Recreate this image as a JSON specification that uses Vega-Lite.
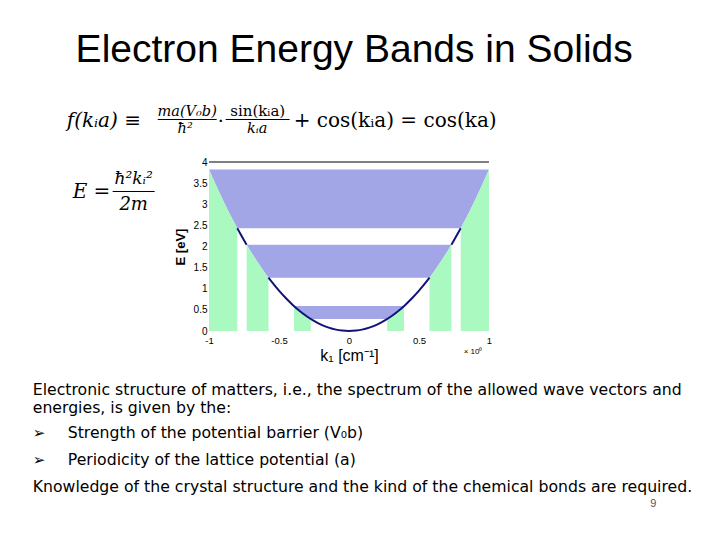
{
  "$schema": "https://vega.github.io/schema/vega-lite/v6.json",
  "width": 280,
  "height": 169,
  "autosize": "none",
  "padding": {"left": 209, "top": 162, "right": 231, "bottom": 209},
  "background": "white",
  "config": {"view": {"stroke": null}},
  "resolve": {"axis": {"x": "independent", "y": "independent"}},
  "datasets": {
    "regions": [
      {"kind": "band", "region": "b1", "k": -0.393, "lo": 0.59, "hi": 0.59},
      {"kind": "band", "region": "b1", "k": -0.35, "lo": 0.468, "hi": 0.59},
      {"kind": "band", "region": "b1", "k": -0.3, "lo": 0.344, "hi": 0.59},
      {"kind": "band", "region": "b1", "k": -0.273, "lo": 0.285, "hi": 0.59},
      {"kind": "band", "region": "b1", "k": 0.273, "lo": 0.285, "hi": 0.59},
      {"kind": "band", "region": "b1", "k": 0.3, "lo": 0.344, "hi": 0.59},
      {"kind": "band", "region": "b1", "k": 0.35, "lo": 0.468, "hi": 0.59},
      {"kind": "band", "region": "b1", "k": 0.393, "lo": 0.59, "hi": 0.59},
      {"kind": "band", "region": "b2", "k": -0.731, "lo": 2.04, "hi": 2.04},
      {"kind": "band", "region": "b2", "k": -0.7, "lo": 1.872, "hi": 2.04},
      {"kind": "band", "region": "b2", "k": -0.65, "lo": 1.614, "hi": 2.04},
      {"kind": "band", "region": "b2", "k": -0.6, "lo": 1.375, "hi": 2.04},
      {"kind": "band", "region": "b2", "k": -0.575, "lo": 1.263, "hi": 2.04},
      {"kind": "band", "region": "b2", "k": 0.575, "lo": 1.263, "hi": 2.04},
      {"kind": "band", "region": "b2", "k": 0.6, "lo": 1.375, "hi": 2.04},
      {"kind": "band", "region": "b2", "k": 0.65, "lo": 1.614, "hi": 2.04},
      {"kind": "band", "region": "b2", "k": 0.7, "lo": 1.872, "hi": 2.04},
      {"kind": "band", "region": "b2", "k": 0.731, "lo": 2.04, "hi": 2.04},
      {"kind": "band", "region": "b3", "k": -1.0, "lo": 3.82, "hi": 3.82},
      {"kind": "band", "region": "b3", "k": -0.95, "lo": 3.448, "hi": 3.82},
      {"kind": "band", "region": "b3", "k": -0.9, "lo": 3.094, "hi": 3.82},
      {"kind": "band", "region": "b3", "k": -0.85, "lo": 2.76, "hi": 3.82},
      {"kind": "band", "region": "b3", "k": -0.798, "lo": 2.433, "hi": 3.82},
      {"kind": "band", "region": "b3", "k": 0.798, "lo": 2.433, "hi": 3.82},
      {"kind": "band", "region": "b3", "k": 0.85, "lo": 2.76, "hi": 3.82},
      {"kind": "band", "region": "b3", "k": 0.9, "lo": 3.094, "hi": 3.82},
      {"kind": "band", "region": "b3", "k": 0.95, "lo": 3.448, "hi": 3.82},
      {"kind": "band", "region": "b3", "k": 1.0, "lo": 3.82, "hi": 3.82},
      {"kind": "kzone", "region": "g1L", "k": -0.393, "lo": 0, "hi": 0.59},
      {"kind": "kzone", "region": "g1L", "k": -0.35, "lo": 0, "hi": 0.468},
      {"kind": "kzone", "region": "g1L", "k": -0.3, "lo": 0, "hi": 0.344},
      {"kind": "kzone", "region": "g1L", "k": -0.273, "lo": 0, "hi": 0.285},
      {"kind": "kzone", "region": "g1R", "k": 0.273, "lo": 0, "hi": 0.285},
      {"kind": "kzone", "region": "g1R", "k": 0.3, "lo": 0, "hi": 0.344},
      {"kind": "kzone", "region": "g1R", "k": 0.35, "lo": 0, "hi": 0.468},
      {"kind": "kzone", "region": "g1R", "k": 0.393, "lo": 0, "hi": 0.59},
      {"kind": "kzone", "region": "g2L", "k": -0.731, "lo": 0, "hi": 2.04},
      {"kind": "kzone", "region": "g2L", "k": -0.7, "lo": 0, "hi": 1.872},
      {"kind": "kzone", "region": "g2L", "k": -0.65, "lo": 0, "hi": 1.614},
      {"kind": "kzone", "region": "g2L", "k": -0.6, "lo": 0, "hi": 1.375},
      {"kind": "kzone", "region": "g2L", "k": -0.575, "lo": 0, "hi": 1.263},
      {"kind": "kzone", "region": "g2R", "k": 0.575, "lo": 0, "hi": 1.263},
      {"kind": "kzone", "region": "g2R", "k": 0.6, "lo": 0, "hi": 1.375},
      {"kind": "kzone", "region": "g2R", "k": 0.65, "lo": 0, "hi": 1.614},
      {"kind": "kzone", "region": "g2R", "k": 0.7, "lo": 0, "hi": 1.872},
      {"kind": "kzone", "region": "g2R", "k": 0.731, "lo": 0, "hi": 2.04},
      {"kind": "kzone", "region": "g3L", "k": -1.0, "lo": 0, "hi": 3.82},
      {"kind": "kzone", "region": "g3L", "k": -0.95, "lo": 0, "hi": 3.448},
      {"kind": "kzone", "region": "g3L", "k": -0.9, "lo": 0, "hi": 3.094},
      {"kind": "kzone", "region": "g3L", "k": -0.85, "lo": 0, "hi": 2.76},
      {"kind": "kzone", "region": "g3L", "k": -0.798, "lo": 0, "hi": 2.433},
      {"kind": "kzone", "region": "g3R", "k": 0.798, "lo": 0, "hi": 2.433},
      {"kind": "kzone", "region": "g3R", "k": 0.85, "lo": 0, "hi": 2.76},
      {"kind": "kzone", "region": "g3R", "k": 0.9, "lo": 0, "hi": 3.094},
      {"kind": "kzone", "region": "g3R", "k": 0.95, "lo": 0, "hi": 3.448},
      {"kind": "kzone", "region": "g3R", "k": 1.0, "lo": 0, "hi": 3.82}
    ],
    "curve": [
      {"seg": "A", "k": -0.798, "E": 2.433},
      {"seg": "A", "k": -0.775, "E": 2.294},
      {"seg": "A", "k": -0.75, "E": 2.149},
      {"seg": "A", "k": -0.731, "E": 2.041},
      {"seg": "B", "k": -0.575, "E": 1.263},
      {"seg": "B", "k": -0.55, "E": 1.156},
      {"seg": "B", "k": -0.5, "E": 0.955},
      {"seg": "B", "k": -0.45, "E": 0.774},
      {"seg": "B", "k": -0.4, "E": 0.611},
      {"seg": "B", "k": -0.35, "E": 0.468},
      {"seg": "B", "k": -0.3, "E": 0.344},
      {"seg": "B", "k": -0.25, "E": 0.239},
      {"seg": "B", "k": -0.2, "E": 0.153},
      {"seg": "B", "k": -0.15, "E": 0.086},
      {"seg": "B", "k": -0.1, "E": 0.038},
      {"seg": "B", "k": -0.05, "E": 0.0096},
      {"seg": "B", "k": 0, "E": 0},
      {"seg": "B", "k": 0.05, "E": 0.0096},
      {"seg": "B", "k": 0.1, "E": 0.038},
      {"seg": "B", "k": 0.15, "E": 0.086},
      {"seg": "B", "k": 0.2, "E": 0.153},
      {"seg": "B", "k": 0.25, "E": 0.239},
      {"seg": "B", "k": 0.3, "E": 0.344},
      {"seg": "B", "k": 0.35, "E": 0.468},
      {"seg": "B", "k": 0.4, "E": 0.611},
      {"seg": "B", "k": 0.45, "E": 0.774},
      {"seg": "B", "k": 0.5, "E": 0.955},
      {"seg": "B", "k": 0.55, "E": 1.156},
      {"seg": "B", "k": 0.575, "E": 1.263},
      {"seg": "C", "k": 0.731, "E": 2.041},
      {"seg": "C", "k": 0.75, "E": 2.149},
      {"seg": "C", "k": 0.775, "E": 2.294},
      {"seg": "C", "k": 0.798, "E": 2.433}
    ]
  },
  "layer": [
    {
      "data": {"name": "regions"},
      "mark": {"type": "area", "opacity": 1},
      "encoding": {
        "x": {"field": "k", "type": "quantitative",
              "scale": {"domain": [-1, 1], "nice": false, "zero": false},
              "axis": {"title": "k₁ [cm⁻¹]", "values": [-1, -0.5, 0, 0.5, 1], "labelExpr": "'' + datum.value",
                       "domain": false, "ticks": false, "grid": false, "labelFlush": false, "labelOverlap": false, "labelPadding": 4,
                       "labelFont": "Liberation Sans", "labelFontSize": 9.5, "labelColor": "#000",
                       "titleFont": "Liberation Sans", "titleFontSize": 16, "titleFontWeight": "normal", "titleColor": "#000", "titlePadding": 3}},
        "y": {"field": "lo", "type": "quantitative",
              "scale": {"domain": [0, 4], "nice": false, "zero": false},
              "axis": {"title": "E [eV]", "values": [0, 0.5, 1, 1.5, 2, 2.5, 3, 3.5, 4], "labelExpr": "'' + datum.value",
                       "domain": false, "ticks": false, "grid": false, "labelFlush": false, "labelOverlap": false, "labelBound": false, "labelPadding": 2,
                       "labelFont": "Liberation Sans", "labelFontSize": 10, "labelColor": "#000",
                       "titleFont": "Liberation Sans", "titleFontSize": 13, "titleFontWeight": "bold", "titleColor": "#000", "titlePadding": 6}},
        "y2": {"field": "hi"},
        "detail": {"field": "region"},
        "color": {"field": "kind", "type": "nominal", "legend": null,
                  "scale": {"domain": ["band", "kzone"], "range": ["#a3a6e6", "#aaf9c0"]}}
      }
    },
    {
      "data": {"name": "curve"},
      "mark": {"type": "line", "color": "#12127a", "strokeWidth": 2, "interpolate": "monotone"},
      "encoding": {
        "x": {"field": "k", "type": "quantitative", "axis": null},
        "y": {"field": "E", "type": "quantitative", "axis": null},
        "detail": {"field": "seg"}
      }
    },
    {
      "data": {"values": [{"top": 4}]},
      "mark": {"type": "rule", "color": "#000", "strokeWidth": 1.2},
      "encoding": {"y": {"field": "top", "type": "quantitative", "axis": null}}
    },
    {
      "data": {"values": [{"t": "Electron Energy Bands in Solids"}]},
      "mark": {"type": "text", "align": "center", "baseline": "alphabetic", "font": "Liberation Sans", "fontSize": 39, "color": "#000"},
      "encoding": {"x": {"datum": 0.037, "axis": null}, "y": {"datum": 6.367, "axis": null}, "text": {"field": "t"}}
    },
    {
      "data": {"values": [{"t": "× 10⁰"}]},
      "mark": {"type": "text", "align": "left", "baseline": "alphabetic", "font": "Liberation Sans", "fontSize": 8, "color": "#000"},
      "encoding": {"x": {"datum": 0.819, "axis": null}, "y": {"datum": -0.544, "axis": null}, "text": {"field": "t"}}
    },
    {
      "data": {"values": [{"t": "f(kᵢa) ≡"}]},
      "mark": {"type": "text", "align": "left", "baseline": "alphabetic", "font": "DejaVu Serif", "fontStyle": "italic", "fontSize": 20, "color": "#000"},
      "encoding": {"x": {"datum": -2.016, "axis": null}, "y": {"datum": 4.828, "axis": null}, "text": {"field": "t"}}
    },
    {
      "data": {"values": [{"t": "ma(V₀b)"}]},
      "mark": {"type": "text", "align": "center", "baseline": "alphabetic", "font": "DejaVu Serif", "fontStyle": "italic", "fontSize": 14.5, "color": "#000"},
      "encoding": {"x": {"datum": -1.156, "axis": null}, "y": {"datum": 5.089, "axis": null}, "text": {"field": "t"}}
    },
    {
      "data": {"values": [{"t": "ħ²"}]},
      "mark": {"type": "text", "align": "center", "baseline": "alphabetic", "font": "DejaVu Serif", "fontStyle": "italic", "fontSize": 14.5, "color": "#000"},
      "encoding": {"x": {"datum": -1.17, "axis": null}, "y": {"datum": 4.686, "axis": null}, "text": {"field": "t"}}
    },
    {
      "data": {"values": [{"a": -1.366, "b": -0.945, "e": 5.006}, {"a": -0.881, "b": -0.424, "e": 5.006}, {"a": -1.688, "b": -1.388, "e": 3.302}]},
      "mark": {"type": "rule", "color": "#000", "strokeWidth": 1},
      "encoding": {"x": {"field": "a", "type": "quantitative", "axis": null}, "x2": {"field": "b"}, "y": {"field": "e", "type": "quantitative", "axis": null}}
    },
    {
      "data": {"values": [{"t": "·"}]},
      "mark": {"type": "text", "align": "center", "baseline": "alphabetic", "font": "DejaVu Serif", "fontSize": 19, "color": "#000"},
      "encoding": {"x": {"datum": -0.916, "axis": null}, "y": {"datum": 4.828, "axis": null}, "text": {"field": "t"}}
    },
    {
      "data": {"values": [{"t": "sin(kᵢa)"}]},
      "mark": {"type": "text", "align": "center", "baseline": "alphabetic", "font": "DejaVu Serif", "fontSize": 15, "color": "#000"},
      "encoding": {"x": {"datum": -0.652, "axis": null}, "y": {"datum": 5.089, "axis": null}, "text": {"field": "t"}}
    },
    {
      "data": {"values": [{"t": "kᵢa"}]},
      "mark": {"type": "text", "align": "center", "baseline": "alphabetic", "font": "DejaVu Serif", "fontStyle": "italic", "fontSize": 14.5, "color": "#000"},
      "encoding": {"x": {"datum": -0.656, "axis": null}, "y": {"datum": 4.686, "axis": null}, "text": {"field": "t"}}
    },
    {
      "data": {"values": [{"t": "+ cos(kᵢa) = cos(ka)"}]},
      "mark": {"type": "text", "align": "left", "baseline": "alphabetic", "font": "DejaVu Serif", "fontSize": 20, "color": "#000"},
      "encoding": {"x": {"datum": -0.395, "axis": null}, "y": {"datum": 4.828, "axis": null}, "text": {"field": "t"}}
    },
    {
      "data": {"values": [{"t": "E ="}]},
      "mark": {"type": "text", "align": "left", "baseline": "alphabetic", "font": "DejaVu Serif", "fontStyle": "italic", "fontSize": 20, "color": "#000"},
      "encoding": {"x": {"datum": -1.974, "axis": null}, "y": {"datum": 3.148, "axis": null}, "text": {"field": "t"}}
    },
    {
      "data": {"values": [{"t": "ħ²kᵢ²"}]},
      "mark": {"type": "text", "align": "center", "baseline": "alphabetic", "font": "DejaVu Serif", "fontStyle": "italic", "fontSize": 17, "color": "#000"},
      "encoding": {"x": {"datum": -1.538, "axis": null}, "y": {"datum": 3.479, "axis": null}, "text": {"field": "t"}}
    },
    {
      "data": {"values": [{"t": "2m"}]},
      "mark": {"type": "text", "align": "center", "baseline": "alphabetic", "font": "DejaVu Serif", "fontStyle": "italic", "fontSize": 18, "color": "#000"},
      "encoding": {"x": {"datum": -1.538, "axis": null}, "y": {"datum": 2.864, "axis": null}, "text": {"field": "t"}}
    },
    {
      "data": {"values": [{"t": "Electronic structure of matters, i.e., the spectrum of the allowed wave vectors and"}]},
      "mark": {"type": "text", "align": "left", "baseline": "alphabetic", "font": "DejaVu Sans", "fontSize": 15.7, "color": "#000"},
      "encoding": {"x": {"datum": -2.259, "axis": null}, "y": {"datum": -1.515, "axis": null}, "text": {"field": "t"}}
    },
    {
      "data": {"values": [{"t": "energies, is given by the:"}]},
      "mark": {"type": "text", "align": "left", "baseline": "alphabetic", "font": "DejaVu Sans", "fontSize": 15.7, "color": "#000"},
      "encoding": {"x": {"datum": -2.259, "axis": null}, "y": {"datum": -1.93, "axis": null}, "text": {"field": "t"}}
    },
    {
      "data": {"values": [{"t": "➢"}]},
      "mark": {"type": "text", "align": "left", "baseline": "alphabetic", "font": "DejaVu Sans", "fontSize": 15, "color": "#000"},
      "encoding": {"x": {"datum": -2.259, "axis": null}, "y": {"datum": -2.533, "axis": null}, "text": {"field": "t"}}
    },
    {
      "data": {"values": [{"t": "Strength of the potential barrier (V₀b)"}]},
      "mark": {"type": "text", "align": "left", "baseline": "alphabetic", "font": "DejaVu Sans", "fontSize": 15.7, "color": "#000"},
      "encoding": {"x": {"datum": -2.009, "axis": null}, "y": {"datum": -2.533, "axis": null}, "text": {"field": "t"}}
    },
    {
      "data": {"values": [{"t": "➢"}]},
      "mark": {"type": "text", "align": "left", "baseline": "alphabetic", "font": "DejaVu Sans", "fontSize": 15, "color": "#000"},
      "encoding": {"x": {"datum": -2.259, "axis": null}, "y": {"datum": -3.172, "axis": null}, "text": {"field": "t"}}
    },
    {
      "data": {"values": [{"t": "Periodicity of the lattice potential (a)"}]},
      "mark": {"type": "text", "align": "left", "baseline": "alphabetic", "font": "DejaVu Sans", "fontSize": 15.7, "color": "#000"},
      "encoding": {"x": {"datum": -2.009, "axis": null}, "y": {"datum": -3.172, "axis": null}, "text": {"field": "t"}}
    },
    {
      "data": {"values": [{"t": "Knowledge of the crystal structure and the kind of the chemical bonds are required."}]},
      "mark": {"type": "text", "align": "left", "baseline": "alphabetic", "font": "DejaVu Sans", "fontSize": 15.7, "color": "#000"},
      "encoding": {"x": {"datum": -2.259, "axis": null}, "y": {"datum": -3.811, "axis": null}, "text": {"field": "t"}}
    },
    {
      "data": {"values": [{"t": "9"}]},
      "mark": {"type": "text", "align": "center", "baseline": "alphabetic", "font": "Liberation Sans", "fontSize": 11, "color": "#555"},
      "encoding": {"x": {"datum": 2.173, "axis": null}, "y": {"datum": -4.166, "axis": null}, "text": {"field": "t"}}
    }
  ]
}
